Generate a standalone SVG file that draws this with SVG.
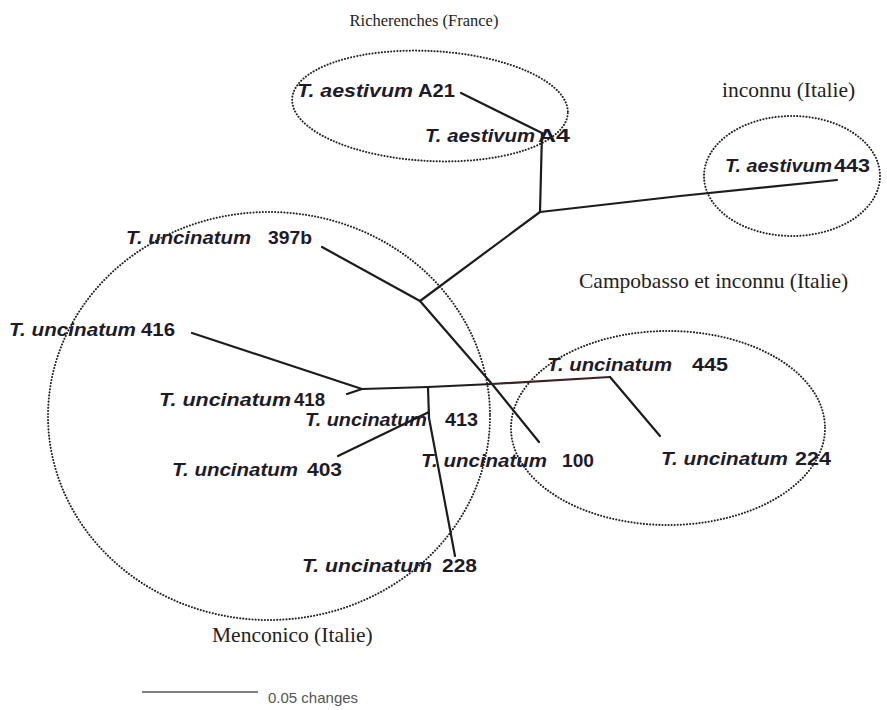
<svg xmlns="http://www.w3.org/2000/svg" width="887" height="710" viewBox="0 0 887 710">
<style>
.bg{fill:#ffffff}
.reg{font-family:"Liberation Serif","Times New Roman",serif;font-size:21.5px;fill:#222222}
.sp{font-family:"Liberation Sans",Arial,sans-serif;font-size:18px;font-weight:bold;font-style:italic;fill:#1d1a2a}
.num{font-family:"Liberation Sans",Arial,sans-serif;font-size:18px;font-weight:bold;fill:#1d1a2a}
.ell{fill:none;stroke:#222222;stroke-width:2;stroke-dasharray:0.1 3;stroke-linecap:round}
.br{fill:none;stroke:#1c1c1c;stroke-width:2.2;stroke-linejoin:round;stroke-linecap:round}
.brr{fill:none;stroke:#3a2226;stroke-width:2.2;stroke-linejoin:round;stroke-linecap:round}
.scale{stroke:#555555;stroke-width:1.5}
.scalet{font-family:"Liberation Sans",Arial,sans-serif;font-size:15px;fill:#555555}
</style>
<rect class="bg" x="0" y="0" width="887" height="710"/>

<g id="groups">
  <ellipse id="g-richerenches" class="ell" cx="430" cy="106" rx="138" ry="55" transform="rotate(3 430 106)"/>
  <ellipse id="g-inconnu" class="ell" cx="792" cy="176" rx="88" ry="60"/>
  <ellipse id="g-menconico" class="ell" cx="269" cy="416" rx="221" ry="204"/>
  <ellipse id="g-campobasso" class="ell" cx="668" cy="428" rx="157" ry="97"/>
</g>

<g id="region-labels">
  <text id="lab-richerenches" class="reg" x="424" y="26" text-anchor="middle" style="font-size:16.5px">Richerenches (France)</text>
  <text id="lab-inconnu" class="reg" x="722" y="97">inconnu (Italie)</text>
  <text id="lab-campobasso" class="reg" x="579" y="288">Campobasso et inconnu (Italie)</text>
  <text id="lab-menconico" class="reg" x="212" y="642">Menconico (Italie)</text>
</g>

<g id="connectors">
  <path class="br" d="M461,93 L542,133"/>
  <path class="br" d="M542,133 L540,212"/>
  <path class="br" d="M540,212 L680,196 L837,180"/>
  <path class="br" d="M540,212 L420,301"/>
  <path class="br" d="M322,247 L420,301 L492,384 L539,442"/>
  <path class="br" d="M362,389 L428,387 L492,384"/>
  <path class="brr" d="M492,384 L610,377"/>
  <path class="br" d="M610,377 L660,436"/>
  <path class="br" d="M192,333 L362,389 L347,394"/>
  <path class="br" d="M428,387 L429,418 L455,556"/>
  <path class="br" d="M338,456 L429,412"/>
</g>

<g id="n-A21"><text class="sp" x="297" y="97" textLength="116" lengthAdjust="spacingAndGlyphs">T. aestivum</text><text class="num" x="418" y="97" textLength="37" lengthAdjust="spacingAndGlyphs">A21</text></g>
<g id="n-A4"><text class="sp" x="425" y="142" textLength="110" lengthAdjust="spacingAndGlyphs">T. aestivum</text><text class="num" x="538" y="142" textLength="32" lengthAdjust="spacingAndGlyphs">A4</text></g>
<g id="n-443"><text class="sp" x="725" y="172" textLength="107" lengthAdjust="spacingAndGlyphs">T. aestivum</text><text class="num" x="834" y="172" textLength="36" lengthAdjust="spacingAndGlyphs">443</text></g>
<g id="n-397b"><text class="sp" x="126" y="244" textLength="125" lengthAdjust="spacingAndGlyphs">T. uncinatum</text><text class="num" x="268" y="244" textLength="44" lengthAdjust="spacingAndGlyphs">397b</text></g>
<g id="n-416"><text class="sp" x="9" y="336" textLength="127" lengthAdjust="spacingAndGlyphs">T. uncinatum</text><text class="num" x="141" y="336" textLength="34" lengthAdjust="spacingAndGlyphs">416</text></g>
<g id="n-418"><text class="sp" x="159" y="406" textLength="132" lengthAdjust="spacingAndGlyphs">T. uncinatum</text><text class="num" x="294" y="406" textLength="31" lengthAdjust="spacingAndGlyphs">418</text></g>
<g id="n-413"><text class="sp" x="305" y="426" textLength="122" lengthAdjust="spacingAndGlyphs">T. uncinatum</text><text class="num" x="445" y="426" textLength="33" lengthAdjust="spacingAndGlyphs">413</text></g>
<g id="n-403"><text class="sp" x="172" y="476" textLength="126" lengthAdjust="spacingAndGlyphs">T. uncinatum</text><text class="num" x="307" y="476" textLength="35" lengthAdjust="spacingAndGlyphs">403</text></g>
<g id="n-100"><text class="sp" x="421" y="467" textLength="126" lengthAdjust="spacingAndGlyphs">T. uncinatum</text><text class="num" x="562" y="467" textLength="32" lengthAdjust="spacingAndGlyphs">100</text></g>
<g id="n-445"><text class="sp" x="547" y="371" textLength="125" lengthAdjust="spacingAndGlyphs">T. uncinatum</text><text class="num" x="692" y="371" textLength="36" lengthAdjust="spacingAndGlyphs">445</text></g>
<g id="n-224"><text class="sp" x="661" y="465" textLength="127" lengthAdjust="spacingAndGlyphs">T. uncinatum</text><text class="num" x="795" y="465" textLength="36" lengthAdjust="spacingAndGlyphs">224</text></g>
<g id="n-228"><text class="sp" x="302" y="572" textLength="130" lengthAdjust="spacingAndGlyphs">T. uncinatum</text><text class="num" x="442" y="572" textLength="35" lengthAdjust="spacingAndGlyphs">228</text></g>

<g id="scale-bar">
  <line class="scale" x1="142" y1="692" x2="258" y2="692"/>
  <text class="scalet" x="268" y="703">0.05 changes</text>
</g>
</svg>
